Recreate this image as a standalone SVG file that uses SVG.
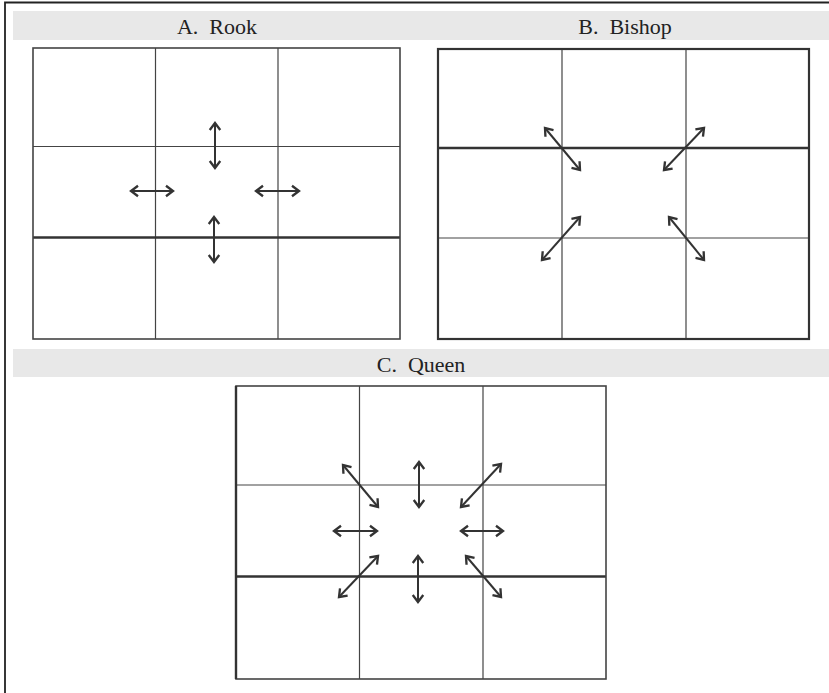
<svg xmlns="http://www.w3.org/2000/svg" width="829" height="693" viewBox="0 0 829 693">
<style>
.bg{fill:#ffffff}
.frame{stroke:#222;stroke-width:1.8;fill:none}
.hdr{fill:#e8e8e8}
.ttl{font-family:"Liberation Serif",serif;font-size:22px;fill:#222;text-anchor:middle}
.border{fill:none;stroke:#444;stroke-width:1.6}
.border2{fill:none;stroke:#333;stroke-width:2.2}
.thin{stroke:#444;stroke-width:1.2}
.thick{stroke:#333;stroke-width:2.4}
.arr{stroke:#333;stroke-width:2;fill:none;marker-start:url(#ah);marker-end:url(#ah)}
</style>
<defs>
<marker id="ah" markerUnits="userSpaceOnUse" markerWidth="14" markerHeight="14" viewBox="-8 -6 10 12" refX="0" refY="0" orient="auto-start-reverse">
<path d="M-6,-4.5 L0,0 L-6,4.5" fill="none" stroke="#333" stroke-width="2" stroke-linejoin="miter"/>
</marker>
</defs>
<rect class="bg" x="0" y="0" width="829" height="693"/>
<path class="frame" d="M5,693 L5,2.5 L829,2.5"/>

<g id="header-ab">
<rect class="hdr" x="13" y="11" width="816" height="29"/>
<text class="ttl" x="217" y="34" xml:space="preserve">A.  Rook</text>
<text class="ttl" x="625" y="34" xml:space="preserve">B.  Bishop</text>
</g>

<g id="header-c">
<rect class="hdr" x="13" y="349" width="816" height="28"/>
<text class="ttl" x="421" y="372" xml:space="preserve">C.  Queen</text>
</g>

<g id="board-rook">
<line class="thin" x1="155.5" y1="48" x2="155.5" y2="339"/>
<line class="thin" x1="278" y1="48" x2="278" y2="339"/>
<line class="thin" x1="33" y1="146.5" x2="400" y2="146.5"/>
<line class="thick" x1="33" y1="237.5" x2="400" y2="237.5"/>
<rect class="border" x="33" y="48" width="367" height="291"/>
</g>

<g id="board-bishop">
<line class="thin" x1="562" y1="49" x2="562" y2="339"/>
<line class="thin" x1="686" y1="49" x2="686" y2="339"/>
<line class="thick" x1="438" y1="148" x2="809" y2="148"/>
<line class="thin" x1="438" y1="238" x2="809" y2="238"/>
<rect class="border2" x="438" y="49" width="371" height="290"/>
</g>

<g id="board-queen">
<line class="thin" x1="359.5" y1="386" x2="359.5" y2="679"/>
<line class="thin" x1="483" y1="386" x2="483" y2="679"/>
<line class="thin" x1="236" y1="485" x2="606" y2="485"/>
<line class="thick" x1="236" y1="576.5" x2="606" y2="576.5"/>
<rect class="border" x="236" y="386" width="370" height="293"/>
<line class="thick" x1="236" y1="386" x2="236" y2="679"/>
</g>

<g id="connectors">
<g id="rook-moves">
<line class="arr" x1="215" y1="123" x2="215" y2="168"/>
<line class="arr" x1="131" y1="191" x2="173" y2="191"/>
<line class="arr" x1="256" y1="191" x2="299" y2="191"/>
<line class="arr" x1="214" y1="217" x2="214" y2="262"/>
</g>
<g id="bishop-moves">
<line class="arr" x1="545" y1="128" x2="580" y2="170"/>
<line class="arr" x1="704" y1="128" x2="664" y2="170"/>
<line class="arr" x1="580" y1="217" x2="542" y2="260"/>
<line class="arr" x1="669" y1="217" x2="704" y2="260"/>
</g>
<g id="queen-moves">
<line class="arr" x1="343" y1="465" x2="378" y2="507"/>
<line class="arr" x1="419" y1="462" x2="419" y2="507"/>
<line class="arr" x1="501" y1="464" x2="461" y2="507"/>
<line class="arr" x1="334" y1="531" x2="377" y2="531"/>
<line class="arr" x1="461" y1="531" x2="503" y2="531"/>
<line class="arr" x1="378" y1="556" x2="339" y2="597"/>
<line class="arr" x1="418" y1="556" x2="418" y2="602"/>
<line class="arr" x1="466" y1="556" x2="501" y2="597"/>
</g>
</g>
</svg>
